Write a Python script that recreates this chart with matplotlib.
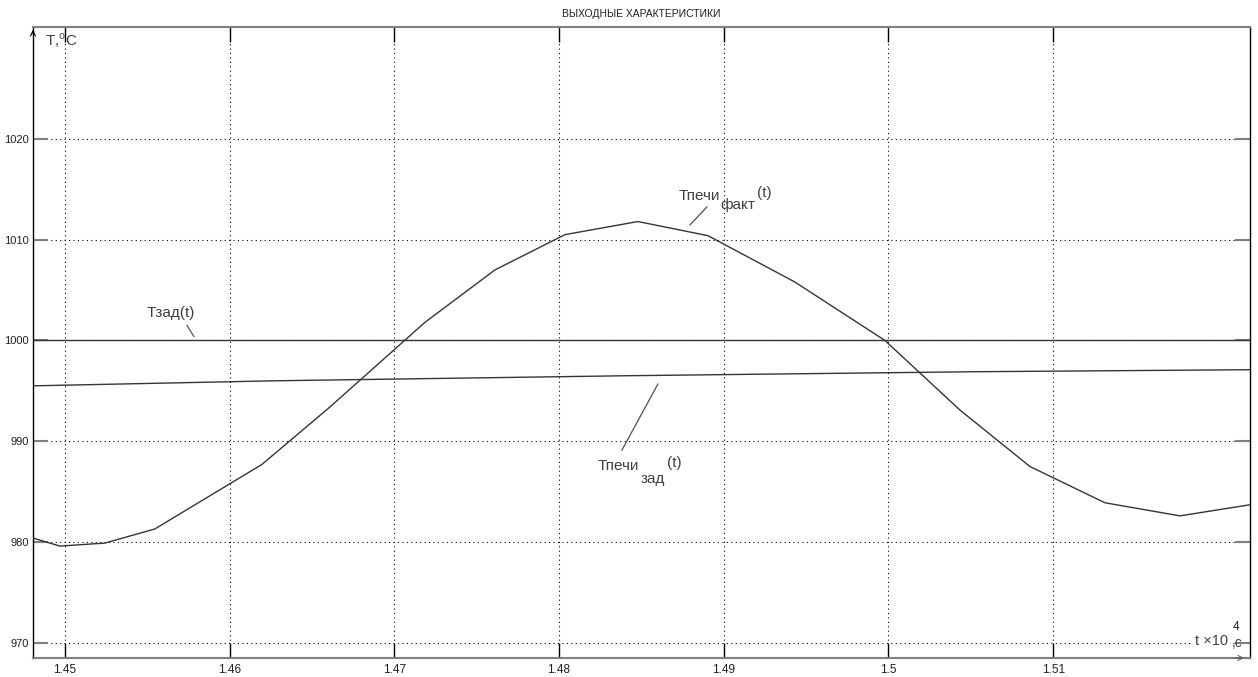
import matplotlib
matplotlib.use("Agg")
import matplotlib.pyplot as plt

plt.rcParams['font.family'] = ['Liberation Sans', 'DejaVu Sans']
plt.rcParams['mathtext.fontset'] = 'custom'
plt.rcParams['mathtext.rm'] = 'Liberation Sans'

# time in units of 1e4 s, temperature in deg C
t_fakt = [1.44806, 1.4497, 1.45243, 1.45546, 1.46196, 1.46609, 1.47186, 1.47611,
          1.48036, 1.48479, 1.48904, 1.49432, 1.49979, 1.50434, 1.50859, 1.51314,
          1.51770, 1.52195]
T_fakt = [980.4, 979.6, 979.9, 981.3, 987.7, 993.4, 1001.8, 1007.0,
          1010.5, 1011.8, 1010.4, 1005.8, 1000.0, 993.1, 987.5, 983.9,
          982.6, 983.7]

t_zad_pechi = [1.44806, 1.46276, 1.48401, 1.50526, 1.52195]
T_zad_pechi = [995.5, 996.0, 996.5, 996.9, 997.1]

t_zad = [1.44806, 1.52195]
T_zad = [1000.0, 1000.0]

xticks = [1.45, 1.46, 1.47, 1.48, 1.49, 1.5, 1.51]
xtick_labels = ['1.45', '1.46', '1.47', '1.48', '1.49', '1.5', '1.51']
yticks = [970, 980, 990, 1000, 1010, 1020]

fig = plt.figure(figsize=(12.58, 6.77), dpi=100)
ax = fig.add_axes([0.0262, 0.0281, 0.9674, 0.932])

line_col = '#353535'
ax.plot(t_fakt, T_fakt, color=line_col, lw=1.0)
ax.plot(t_zad_pechi, T_zad_pechi, color=line_col, lw=1.0)
ax.plot(t_zad, T_zad, color=line_col, lw=1.0)

ax.set_xlim(1.44806, 1.52195)
ax.set_ylim(968.5, 1031.1)
ax.set_xticks(xticks)
ax.set_xticklabels(xtick_labels)
ax.set_yticks(yticks)

ax.grid(True, linestyle=(0, (1, 3)), color='k', lw=0.8)
ax.tick_params(axis='x', direction='in', length=11, width=1, color='k',
               top=True, labelsize=8.5, labelcolor='#202020', pad=4)
ax.tick_params(axis='y', direction='in', length=11, width=1.5, color='#808080',
               right=True, labelsize=8, labelcolor='#202020', pad=3)

for s in ['left', 'right']:
    ax.spines[s].set_color('k')
    ax.spines[s].set_linewidth(1.0)
for s in ['top', 'bottom']:
    ax.spines[s].set_color('#808080')
    ax.spines[s].set_linewidth(1.5)

ax.set_title('ВЫХОДНЫЕ ХАРАКТЕРИСТИКИ', fontsize=7.5, color='#202020', pad=7)

# arrow heads on the axes
ax.annotate('', xy=(0, 1.0), xytext=(0, 0.985), xycoords='axes fraction',
            arrowprops=dict(arrowstyle='->', lw=0.8, color='k', mutation_scale=9))
ax.annotate('', xy=(0.9975, 0), xytext=(0.985, 0), xycoords='axes fraction',
            arrowprops=dict(arrowstyle='->', lw=0.8, color='#606060', mutation_scale=9))

txt = '#404040'
fs = 11
wbox = dict(facecolor='white', edgecolor='none', pad=2)

# axis labels inside the box
ax.text(0.0099, 0.979, r'T,$^{\mathrm{o}}$C', transform=ax.transAxes, fontsize=fs,
        color=txt, ha='left', va='center')
ax.text(0.9545, 0.0269, 't ×10', transform=ax.transAxes, fontsize=10.5, color=txt,
        ha='left', va='center', bbox=wbox)
ax.text(0.9860, 0.0490, '4', transform=ax.transAxes, fontsize=8.5, color='#202020',
        ha='left', va='center')
ax.text(0.9852, 0.0240, ',c', transform=ax.transAxes, fontsize=10, color=txt,
        ha='left', va='center')

# curve labels with leader lines
ax.text(1.45498, 1002.7, 'Тзад(t)', fontsize=fs, color=txt, ha='left', va='center')
ax.plot([1.45741, 1.45783], [1001.5, 1000.4], color='#505050', lw=0.9)

ax.text(1.48728, 1014.3, 'Тпечи', fontsize=fs, color=txt, ha='left', va='center')
ax.text(1.48977, 1013.4, 'факт', fontsize=fs, color=txt, ha='left', va='center')
ax.text(1.49202, 1014.6, '(t)', fontsize=fs, color=txt, ha='left', va='center')
ax.plot([1.48898, 1.48795], [1013.25, 1011.46], color='#505050', lw=0.9)

ax.text(1.48236, 987.5, 'Тпечи', fontsize=fs, color=txt, ha='left', va='center')
ax.text(1.48497, 986.3, 'зад', fontsize=fs, color=txt, ha='left', va='center')
ax.text(1.48655, 987.8, '(t)', fontsize=fs, color=txt, ha='left', va='center')
ax.plot([1.48600, 1.48382], [995.67, 989.12], color='#505050', lw=0.9)

fig.savefig('out.png', dpi=100)
